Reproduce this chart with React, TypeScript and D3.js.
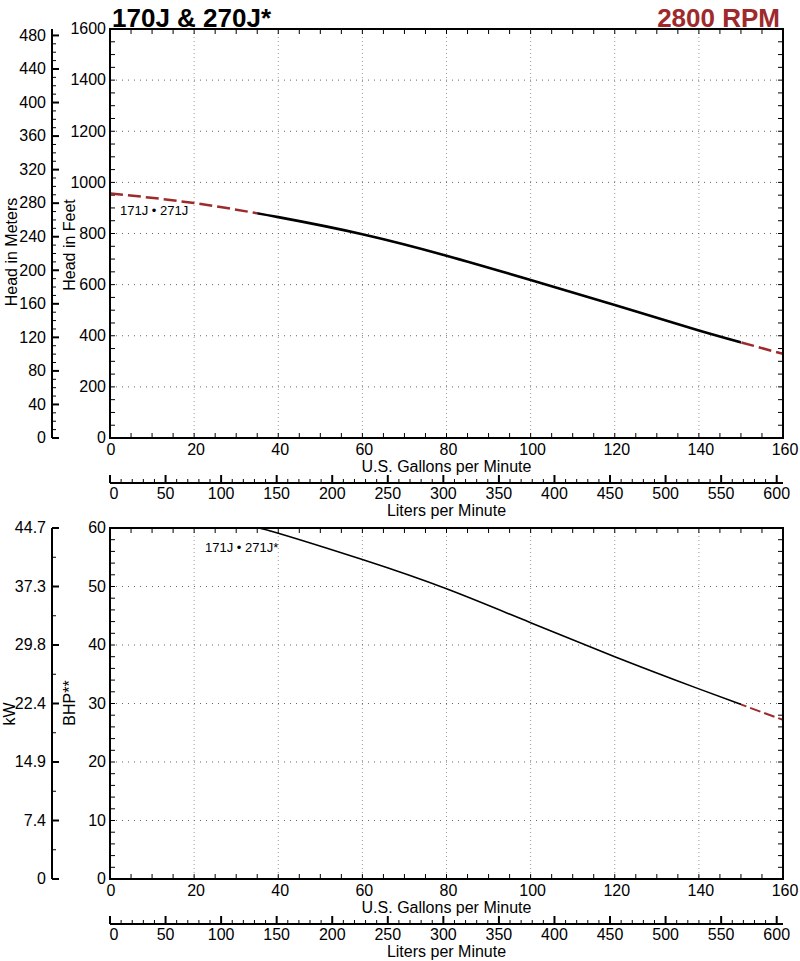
import React from "react";
import * as d3 from "d3";

// ---- data ----
const gpmHead = [0, 20, 40, 60, 80, 100, 120, 140, 160];
const headFt = [957, 919, 864, 797, 713, 618, 520, 421, 329];
const gpmPower = [35, 40, 60, 80, 100, 120, 140, 160];
const bhpValues = [60, 59.1, 54.6, 49.6, 43.8, 38.0, 32.5, 27.2];
const solidFrom = 35;
const solidTo = 150;

const gpmTicks = [0, 20, 40, 60, 80, 100, 120, 140, 160];
const literTicks = [0, 50, 100, 150, 200, 250, 300, 350, 400, 450, 500, 550, 600];
const feetTicks = [0, 200, 400, 600, 800, 1000, 1200, 1400, 1600];
const meterTicks = [0, 40, 80, 120, 160, 200, 240, 280, 320, 360, 400, 440, 480];
const bhpTicks = [0, 10, 20, 30, 40, 50, 60];
const kwLabels = ["0", "7.4", "14.9", "22.4", "29.8", "37.3", "44.7"];

const FONT = "'Liberation Sans', Arial, Helvetica, sans-serif";
const RED = "#9e2a2b";
const FT_PER_M = 3.28084;
const L_PER_GAL = 3.78541;
const TICK_FS = 16;
const TITLE_FS = 16;

const X0 = 110, X1 = 783;
const mAxisX = 52;

const x = d3.scaleLinear().domain([0, 160]).range([X0, X1]);

function range(a: number, b: number, s: number) {
  const r: number[] = [];
  for (let v = a; v <= b + 1e-9; v += s) r.push(+v.toFixed(6));
  return r;
}

function Frame({ y, yMinorStep, yGrid, top, bottom }: any) {
  const xMinor = range(0, 160, 5);
  const yMinor = range(y.domain()[0], y.domain()[1], yMinorStep);
  return (
    <g>
      {gpmTicks.slice(1, -1).map((v) => (
        <line key={"vg" + v} x1={x(v)} x2={x(v)} y1={top} y2={bottom} stroke="#999" strokeWidth={1} strokeDasharray="1,3" />
      ))}
      {yGrid.slice(1, -1).map((v: number) => (
        <line key={"hg" + v} x1={X0} x2={X1} y1={y(v)} y2={y(v)} stroke="#666" strokeWidth={1} strokeDasharray="1,5" />
      ))}
      {xMinor.map((v) => (
        <g key={"xt" + v}>
          <line x1={x(v)} x2={x(v)} y1={bottom} y2={bottom - 5} stroke="#000" strokeWidth={1} />
          <line x1={x(v)} x2={x(v)} y1={top} y2={top + 5} stroke="#000" strokeWidth={1} />
        </g>
      ))}
      {yMinor.map((v) => (
        <g key={"yt" + v}>
          <line x1={X0} x2={X0 + 5} y1={y(v)} y2={y(v)} stroke="#000" strokeWidth={1} />
          <line x1={X1} x2={X1 - 5} y1={y(v)} y2={y(v)} stroke="#000" strokeWidth={1} />
        </g>
      ))}
    </g>
  );
}

function Border({ top, bottom }: any) {
  return <rect x={X0} y={top} width={X1 - X0} height={bottom - top} fill="none" stroke="#000" strokeWidth={2} />;
}

function BottomAxes({ bottom }: any) {
  const lx = d3.scaleLinear().domain([0, 160 * L_PER_GAL]).range([X0, X1]);
  const lineY = bottom + 45;
  const lMinor = range(0, 600, 10);
  return (
    <g fontFamily={FONT}>
      {gpmTicks.map((v) => (
        <text key={"gl" + v} x={x(v) + (v === 0 ? 1 : 2)} y={bottom + 17} fontSize={TICK_FS} textAnchor="middle">{v}</text>
      ))}
      <text x={(X0 + X1) / 2} y={bottom + 34} fontSize={TITLE_FS} textAnchor="middle">U.S. Gallons per Minute</text>
      <line x1={X0} x2={X1} y1={lineY} y2={lineY} stroke="#000" strokeWidth={2} />
      {lMinor.map((v) => (
        <line key={"lm" + v} x1={lx(v)} x2={lx(v)} y1={lineY} y2={lineY - (v % 50 === 0 ? 8 : 4)} stroke="#000" strokeWidth={v % 50 === 0 ? 2 : 1} />
      ))}
      {literTicks.map((v) => (
        <text key={"ll" + v} x={lx(v) + (v === 0 ? 4 : 0)} y={lineY + 16} fontSize={TICK_FS} textAnchor="middle">{v}</text>
      ))}
      <text x={(X0 + X1) / 2} y={lineY + 33} fontSize={TITLE_FS} textAnchor="middle">Liters per Minute</text>
    </g>
  );
}

export default function App() {
  // ---- top chart ----
  const T0 = 29, T1 = 438;
  const yH = d3.scaleLinear().domain([0, 1600]).range([T1, T0]);
  const yM = d3.scaleLinear().domain([0, 1600 / FT_PER_M]).range([T1, T0]);
  const headPts = gpmHead.map((g, i) => [g, headFt[i]] as [number, number]);
  const lineH = d3.line<[number, number]>().x((d) => x(d[0])).y((d) => yH(d[1])).curve(d3.curveNatural);
  const headPath = lineH(headPts) || "";
  const mMinor = range(0, 480, 10);

  // ---- bottom chart ----
  const B0 = 528, B1 = 879;
  const yP = d3.scaleLinear().domain([0, 60]).range([B1, B0]);
  const powPts = gpmPower.map((g, i) => [g, bhpValues[i]] as [number, number]);
  const lineP = d3.line<[number, number]>().x((d) => x(d[0])).y((d) => yP(d[1])).curve(d3.curveNatural);
  const powPath = lineP(powPts) || "";
  const kwMinor = range(0, 60, 5);

  const xs = x(solidFrom), xe = x(solidTo);

  return (
    <svg width={800} height={961} style={{ position: "absolute", left: 0, top: 0, background: "#fff" }} fontFamily={FONT}>
      <defs>
        <clipPath id="clipA"><rect x={0} y={0} width={xs} height={961} /></clipPath>
        <clipPath id="clipB"><rect x={xs} y={0} width={xe - xs} height={961} /></clipPath>
        <clipPath id="clipC"><rect x={xe} y={0} width={800 - xe} height={961} /></clipPath>
        <clipPath id="clipTopPlot"><rect x={X0} y={29} width={X1 - X0} height={409} /></clipPath>
        <clipPath id="clipBotPlot"><rect x={X0} y={528} width={X1 - X0} height={351} /></clipPath>
      </defs>
      <rect x={0} y={0} width={800} height={961} fill="#fff" />
      {/* titles */}
      <text x={112} y={27} fontSize={26} fontWeight="bold" fill="#000">170J &amp; 270J*</text>
      <text x={780} y={27} fontSize={26} fontWeight="bold" fill={RED} textAnchor="end">2800 RPM</text>

      {/* ===== TOP CHART ===== */}
      <Frame y={yH} yMinorStep={50} yGrid={feetTicks} top={T0} bottom={T1} />
      <g clipPath="url(#clipTopPlot)">
        <g clipPath="url(#clipA)">
          <path d={headPath} fill="none" stroke={RED} strokeWidth={2.5} strokeDasharray="13,5" />
        </g>
        <g clipPath="url(#clipB)">
          <path d={headPath} fill="none" stroke="#000" strokeWidth={2.6} />
        </g>
        <g clipPath="url(#clipC)">
          <path d={headPath} fill="none" stroke={RED} strokeWidth={2.5} strokeDasharray="13,5" strokeDashoffset={-2} />
        </g>
      </g>
      <Border top={T0} bottom={T1} />
      <text x={120} y={215} fontSize={13}>171J • 271J</text>
      <g fontSize={TICK_FS}>
        {feetTicks.map((v) => (
          <text key={"ft" + v} x={106} y={yH(v)} dy="0.33em" textAnchor="end">{v}</text>
        ))}
      </g>
      {/* meters axis */}
      <line x1={mAxisX} x2={mAxisX} y1={T1} y2={T0} stroke="#000" strokeWidth={2} />
      {mMinor.map((v) => (
        <line key={"mm" + v} x1={mAxisX} x2={mAxisX + (v % 40 === 0 ? 7 : 4)} y1={yM(v)} y2={yM(v)} stroke="#000" strokeWidth={v % 40 === 0 ? 2 : 1} />
      ))}
      <g fontSize={TICK_FS}>
        {meterTicks.map((v) => (
          <text key={"mt" + v} x={46} y={yM(v)} dy="0.33em" textAnchor="end">{v}</text>
        ))}
      </g>
      <text transform={`translate(17,252) rotate(-90)`} fontSize={TITLE_FS} textAnchor="middle">Head in Meters</text>
      <text transform={`translate(75,245) rotate(-90)`} fontSize={TITLE_FS} textAnchor="middle">Head in Feet</text>
      <BottomAxes bottom={T1} />

      {/* ===== BOTTOM CHART ===== */}
      <Frame y={yP} yMinorStep={2} yGrid={bhpTicks} top={B0} bottom={B1} />
      <g clipPath="url(#clipBotPlot)">
        <g clipPath="url(#clipB)">
          <path d={powPath} fill="none" stroke="#000" strokeWidth={1.6} />
        </g>
        <g clipPath="url(#clipC)">
          <path d={powPath} fill="none" stroke={RED} strokeWidth={2} strokeDasharray="11,4" />
        </g>
      </g>
      <Border top={B0} bottom={B1} />
      <text x={205} y={552} fontSize={13}>171J • 271J*</text>
      <g fontSize={TICK_FS}>
        {bhpTicks.map((v) => (
          <text key={"bt" + v} x={106} y={yP(v)} dy="0.33em" textAnchor="end">{v}</text>
        ))}
      </g>
      <line x1={mAxisX} x2={mAxisX} y1={B1} y2={B0} stroke="#000" strokeWidth={2} />
      {kwMinor.map((v) => (
        <line key={"km" + v} x1={mAxisX} x2={mAxisX + (v % 10 === 0 ? 7 : 4)} y1={yP(v)} y2={yP(v)} stroke="#000" strokeWidth={v % 10 === 0 ? 2 : 1} />
      ))}
      <g fontSize={TICK_FS}>
        {bhpTicks.map((v, i) => (
          <text key={"kw" + v} x={46} y={yP(v)} dy="0.33em" textAnchor="end">{kwLabels[i]}</text>
        ))}
      </g>
      <text transform={`translate(15,714) rotate(-90)`} fontSize={TITLE_FS} textAnchor="middle">kW</text>
      <text transform={`translate(75,703) rotate(-90)`} fontSize={TITLE_FS} textAnchor="middle">BHP**</text>
      <BottomAxes bottom={B1} />
    </svg>
  );
}
